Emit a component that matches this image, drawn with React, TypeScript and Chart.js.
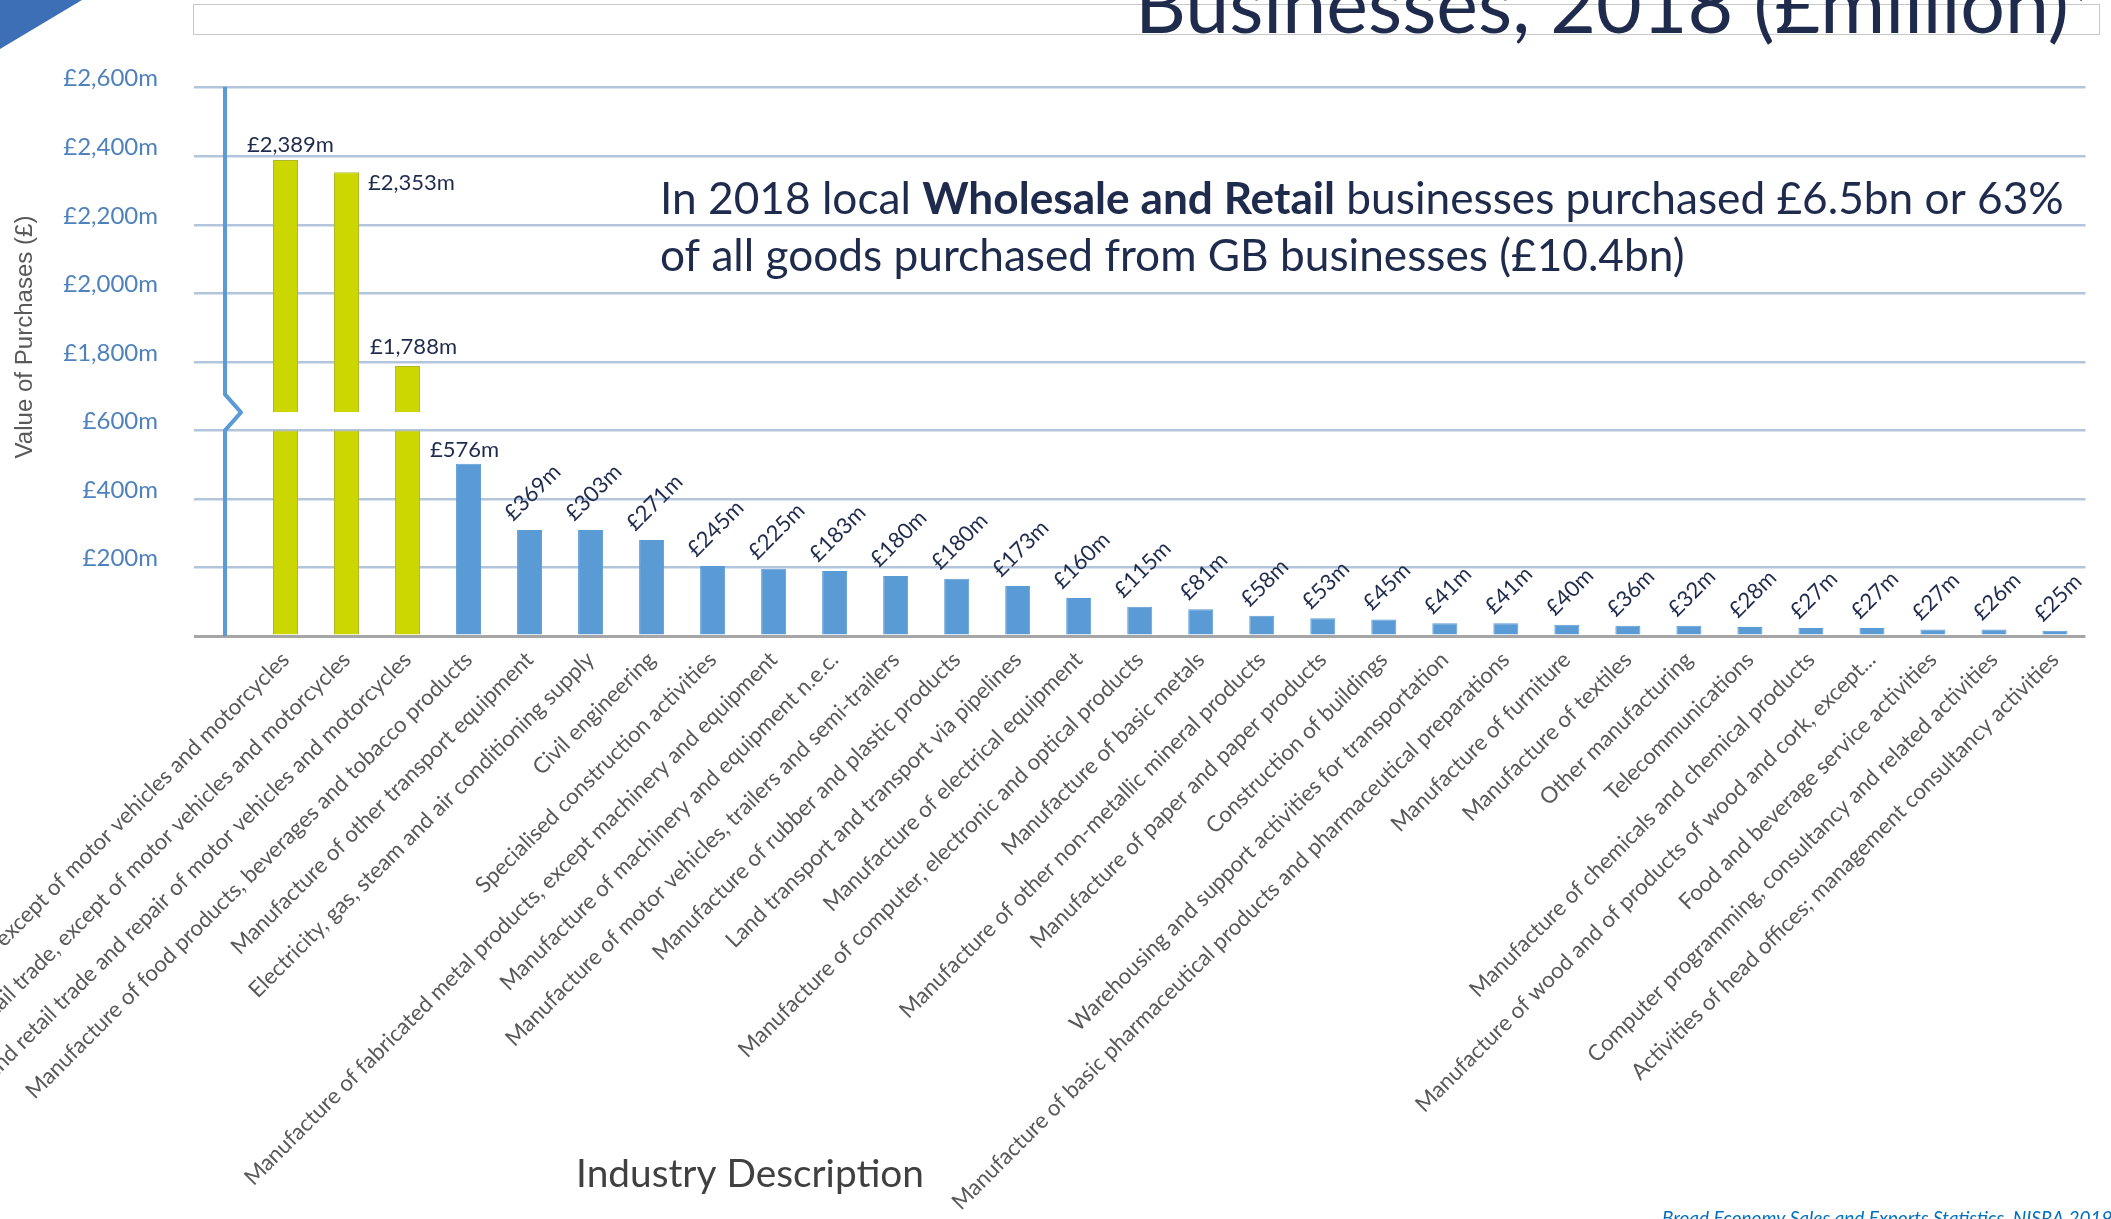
import React, { useEffect, useRef } from 'react';
import { Chart, registerables } from 'chart.js';

Chart.register(...registerables);

// ---------- data ----------
const categories = [
  'Wholesale trade, except of motor vehicles and motorcycles',
  'Retail trade, except of motor vehicles and motorcycles',
  'Wholesale and retail trade and repair of motor vehicles and motorcycles',
  'Manufacture of food products, beverages and tobacco products',
  'Manufacture of other transport equipment',
  'Electricity, gas, steam and air conditioning supply',
  'Civil engineering',
  'Specialised construction activities',
  'Manufacture of fabricated metal products, except machinery and equipment',
  'Manufacture of machinery and equipment n.e.c.',
  'Manufacture of motor vehicles, trailers and semi-trailers',
  'Manufacture of rubber and plastic products',
  'Land transport and transport via pipelines',
  'Manufacture of electrical equipment',
  'Manufacture of computer, electronic and optical products',
  'Manufacture of basic metals',
  'Manufacture of other non-metallic mineral products',
  'Manufacture of paper and paper products',
  'Construction of buildings',
  'Warehousing and support activities for transportation',
  'Manufacture of basic pharmaceutical products and pharmaceutical preparations',
  'Manufacture of furniture',
  'Manufacture of textiles',
  'Other manufacturing',
  'Telecommunications',
  'Manufacture of chemicals and chemical products',
  'Manufacture of wood and of products of wood and cork, except...',
  'Food and beverage service activities',
  'Computer programming, consultancy and related activities',
  'Activities of head offices; management consultancy activities',
];

// bar heights as drawn in the picture (£m on the axis)
const barHeights = [
  2389, 2353, 1788, 503, 309, 309, 280, 204, 196, 190,
  175, 167, 146, 111, 85, 78, 59, 52, 48, 37,
  37, 33, 30, 30, 26, 23, 23, 19, 19, 15,
];

// value labels as printed on the picture
const valueLabels = [
  '£2,389m', '£2,353m', '£1,788m', '£576m', '£369m', '£303m', '£271m', '£245m', '£225m', '£183m',
  '£180m', '£180m', '£173m', '£160m', '£115m', '£81m', '£58m', '£53m', '£45m', '£41m',
  '£41m', '£40m', '£36m', '£32m', '£28m', '£27m', '£27m', '£27m', '£26m', '£25m',
];

const highlighted = [true, true, true];

const yTickValues = [200, 400, 600, 1800, 2000, 2200, 2400, 2600];
const yTickLabels = ['£200m', '£400m', '£600m', '£1,800m', '£2,000m', '£2,200m', '£2,400m', '£2,600m'];

// broken axis: values above the break are shifted down by this amount
const breakLow = 600;
const breakShift = 1000;
const upperPieceStart = 1653;

const titleText = 'Businesses, 2018 (£million)';
const annotationLine1 = [
  { text: 'In 2018 local ', bold: false },
  { text: 'Wholesale and Retail', bold: true },
  { text: ' businesses purchased £6.5bn or 63%', bold: false },
];
const annotationLine2 = 'of all goods purchased from GB businesses (£10.4bn)';
const xTitle = 'Industry Description';
const yTitle = 'Value of Purchases (£)';
const sourceText = 'Broad Economy Sales and Exports Statistics, NISRA 2019';

// ---------- helpers ----------
const toVirtual = (v: number) => (v <= breakLow ? v : v - breakShift);
const toActual = (v: number) => (v <= breakLow ? v : v + breakShift);

const YELLOW = '#CCD600';
const BLUE = '#5B9BD5';
const NAVY = '#1F2B4D';
const LATO = 'Lato, "Open Sans", sans-serif';

const decorPlugin = {
  id: 'decor',
  afterDatasetsDraw(chart: any) {
    const ctx = chart.ctx as CanvasRenderingContext2D;
    const y = chart.scales.y;
    const lowerMeta = chart.getDatasetMeta(0);
    const upperMeta = chart.getDatasetMeta(1);

    // y axis line with break
    const ax = 225;
    const top = y.getPixelForValue(1600);
    const p600 = y.getPixelForValue(600);
    const bottom = y.getPixelForValue(0);
    ctx.save();
    ctx.strokeStyle = BLUE;
    ctx.lineWidth = 4;
    ctx.lineJoin = 'round';
    ctx.beginPath();
    ctx.moveTo(ax, top - 1);
    ctx.lineTo(ax, p600 - 36);
    ctx.lineTo(ax + 16, p600 - 18);
    ctx.lineTo(ax, p600);
    ctx.lineTo(ax, bottom);
    ctx.stroke();
    ctx.restore();

    // data labels
    ctx.save();
    ctx.fillStyle = NAVY;
    ctx.font = `22px ${LATO}`;
    barHeights.forEach((v, i) => {
      const el = v > breakLow ? upperMeta.data[i] : lowerMeta.data[i];
      if (!el) return;
      const bx = el.x;
      const by = el.y;
      const label = valueLabels[i];
      if (i === 0) {
        ctx.textAlign = 'center';
        ctx.textBaseline = 'alphabetic';
        ctx.fillText(label, bx + 5, by - 8);
      } else if (i === 1) {
        ctx.textAlign = 'left';
        ctx.textBaseline = 'alphabetic';
        ctx.fillText(label, bx + el.width / 2 + 9, by + 18);
      } else if (i === 2) {
        ctx.textAlign = 'center';
        ctx.textBaseline = 'alphabetic';
        ctx.fillText(label, bx + 6, by - 12);
      } else if (i === 3) {
        ctx.textAlign = 'center';
        ctx.textBaseline = 'alphabetic';
        ctx.fillText(label, bx - 4, by - 7);
      } else {
        const w = ctx.measureText(label).width;
        const h = 17;
        const bbox = (w + h) / Math.SQRT2;
        const cx = bx + 3;
        const cy = by - 7 - bbox / 2;
        ctx.save();
        ctx.translate(cx, cy);
        ctx.rotate(-Math.PI / 4);
        ctx.textAlign = 'center';
        ctx.textBaseline = 'middle';
        ctx.fillText(label, 0, 0);
        ctx.restore();
      }
    });
    ctx.restore();

    // category labels
    ctx.save();
    ctx.fillStyle = '#595959';
    ctx.font = `22.3px ${LATO}`;
    categories.forEach((c, i) => {
      const el = lowerMeta.data[i];
      if (!el) return;
      ctx.save();
      ctx.translate(el.x, bottom + 20);
      ctx.rotate(-Math.PI / 4);
      ctx.textAlign = 'right';
      ctx.textBaseline = 'middle';
      ctx.fillText(c, 0, 0);
      ctx.restore();
    });
    ctx.restore();
  },
  afterDraw(chart: any) {
    const ctx = chart.ctx as CanvasRenderingContext2D;
    ctx.save();

    // corner triangle
    ctx.fillStyle = '#3D6FB6';
    ctx.beginPath();
    ctx.moveTo(0, 0);
    ctx.lineTo(82, 0);
    ctx.lineTo(0, 49);
    ctx.closePath();
    ctx.fill();

    // title placeholder box
    ctx.strokeStyle = '#C8C8C8';
    ctx.lineWidth = 1;
    ctx.strokeRect(193.5, 4.5, 1906, 30);

    // title (clipped at top)
    ctx.fillStyle = NAVY;
    ctx.font = `60px ${LATO}`;
    let tw = ctx.measureText(titleText).width;
    const tSize = 60 * (934 / tw);
    ctx.font = `${tSize}px ${LATO}`;
    ctx.textAlign = 'left';
    ctx.textBaseline = 'alphabetic';
    ctx.fillText(titleText, 1135, 33);
    tw = ctx.measureText(titleText).width;
    ctx.font = `30px ${LATO}`;
    ctx.fillText('*', 1135 + tw + 6, 14);

    // annotation
    const fontFor = (bold: boolean, s: number) => `${bold ? 'bold ' : ''}${s}px ${LATO}`;
    let w1 = 0;
    annotationLine1.forEach((seg) => {
      ctx.font = fontFor(seg.bold, 40);
      w1 += ctx.measureText(seg.text).width;
    });
    const aSize = 40 * (1404 / w1);
    let ax = 660;
    annotationLine1.forEach((seg) => {
      ctx.font = fontFor(seg.bold, aSize);
      ctx.fillText(seg.text, ax, 214);
      ax += ctx.measureText(seg.text).width;
    });
    ctx.font = fontFor(false, aSize);
    ctx.fillText(annotationLine2, 660, 271);

    // x title
    ctx.fillStyle = '#404040';
    ctx.font = `36px ${LATO}`;
    const xw = ctx.measureText(xTitle).width;
    const xs = 36 * (348 / xw);
    ctx.font = `${xs}px ${LATO}`;
    ctx.textAlign = 'center';
    ctx.fillText(xTitle, 750, 1187);

    // y title
    ctx.fillStyle = '#595959';
    ctx.font = `21px "Liberation Sans", Arial, sans-serif`;
    const yw = ctx.measureText(yTitle).width;
    const ys = 21 * (243 / yw);
    ctx.font = `${ys}px "Liberation Sans", Arial, sans-serif`;
    ctx.save();
    ctx.translate(25, 337);
    ctx.rotate(-Math.PI / 2);
    ctx.textAlign = 'center';
    ctx.textBaseline = 'middle';
    ctx.fillText(yTitle, 0, 0);
    ctx.restore();

    // source
    ctx.fillStyle = '#0070C0';
    ctx.font = `italic 19px ${LATO}`;
    ctx.textAlign = 'left';
    ctx.textBaseline = 'alphabetic';
    ctx.fillText(sourceText, 1662, 1225);

    ctx.restore();
  },
};

export default function App() {
  const canvasRef = useRef<HTMLCanvasElement | null>(null);

  useEffect(() => {
    let chart: Chart | null = null;
    let cancelled = false;
    const fonts = [`22px Lato`, `bold 22px Lato`, `italic 19px Lato`, `21px "Liberation Sans"`];
    Promise.all(fonts.map((f) => document.fonts.load(f)))
      .catch(() => undefined)
      .then(() => {
        if (cancelled || !canvasRef.current) return;
        const lowerData = barHeights.map((v) => Math.min(v, breakLow));
        const upperData = barHeights.map((v) =>
          v > breakLow ? [toVirtual(upperPieceStart), toVirtual(v)] : null
        );
        const colors = barHeights.map((_, i) => (highlighted[i] ? YELLOW : BLUE));
        const borders = barHeights.map((_, i) => (highlighted[i] ? '#AEB626' : BLUE));
        chart = new Chart(canvasRef.current, {
          type: 'bar',
          data: {
            labels: categories,
            datasets: [
              {
                data: lowerData,
                backgroundColor: colors,
                borderColor: borders,
                borderWidth: 1,
                grouped: false,
                barPercentage: 0.41,
                categoryPercentage: 1,
              } as any,
              {
                data: upperData as any,
                backgroundColor: colors,
                borderColor: borders,
                borderWidth: 1,
                grouped: false,
                barPercentage: 0.41,
                categoryPercentage: 1,
              } as any,
            ],
          },
          options: {
            animation: false,
            responsive: false,
            devicePixelRatio: 1,
            layout: { padding: { left: 0, right: 25.5, top: 87.7, bottom: 583 } },
            plugins: {
              legend: { display: false },
              tooltip: { enabled: false },
              title: { display: false },
            },
            scales: {
              x: { display: false, offset: true },
              y: {
                min: 0,
                max: 1600,
                ticks: {
                  stepSize: 200,
                  padding: 36,
                  labelOffset: -9,
                  color: '#4F81BD',
                  font: { family: 'Lato', size: 24 },
                  callback: (val: any) => {
                    const a = toActual(Number(val));
                    const k = yTickValues.indexOf(a);
                    return k >= 0 ? yTickLabels[k] : '';
                  },
                },
                grid: {
                  drawTicks: true,
                  tickLength: 61,
                  color: (c: any) => (c.tick && c.tick.value === 0 ? '#A6A6A6' : '#B3C5DC'),
                  tickColor: (c: any) => (c.tick && c.tick.value === 0 ? '#A6A6A6' : '#B3C5DC'),
                  lineWidth: (c: any) => (c.tick && c.tick.value === 0 ? 3 : 2.5),
                },
                border: { display: false },
                afterFit: (scale: any) => {
                  scale.width = 255;
                },
              },
            },
          },
          plugins: [decorPlugin],
        });
      });
    return () => {
      cancelled = true;
      if (chart) chart.destroy();
    };
  }, []);

  return (
    <div style={{ position: 'fixed', left: 0, top: 0, width: 2111, height: 1219, background: '#fff' }}>
      <canvas ref={canvasRef} width={2111} height={1219} style={{ width: 2111, height: 1219 }} />
    </div>
  );
}
